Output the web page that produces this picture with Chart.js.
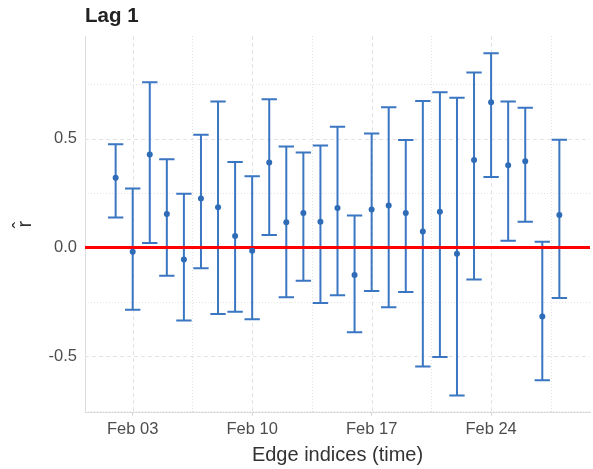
<!DOCTYPE html>
<html>
<head>
<meta charset="utf-8">
<script src="https://cdn.jsdelivr.net/npm/chart.js@4/dist/chart.umd.min.js"></script>
<style>
  html, body { margin: 0; padding: 0; background: #fff; }
  #wrap { width: 593px; height: 469px; }
</style>
</head>
<body>
<div id="wrap"><canvas id="lagChart" width="593" height="469"></canvas></div>
<script>
// Data (day of February)
const days = [2, 3, 4, 5, 6, 7, 8, 9, 10, 11, 12, 13, 14, 15, 16, 17, 18, 19, 20, 21, 22, 23, 24, 25, 26, 27, 28];
const estimates = [0.320, -0.020, 0.427, 0.153, -0.055, 0.225, 0.185, 0.052, -0.015, 0.390, 0.116, 0.158, 0.118, 0.181,
  -0.127, 0.174, 0.193, 0.158, 0.073, 0.164, -0.029, 0.401, 0.667, 0.378, 0.396, -0.317, 0.149];
const upper = [0.474, 0.271, 0.759, 0.405, 0.246, 0.517, 0.670, 0.392, 0.327, 0.681, 0.463, 0.436, 0.468, 0.554,
  0.147, 0.523, 0.644, 0.493, 0.673, 0.713, 0.687, 0.803, 0.892, 0.670, 0.641, 0.026, 0.494];
const lower = [0.138, -0.286, 0.020, -0.130, -0.335, -0.095, -0.306, -0.295, -0.330, 0.057, -0.229, -0.153, -0.255, -0.220,
  -0.390, -0.200, -0.275, -0.205, -0.547, -0.503, -0.680, -0.147, 0.324, 0.031, 0.118, -0.610, -0.232];

const xTickDays = [3, 10, 17, 24];
const xTickLabels = ["Feb 03", "Feb 10", "Feb 17", "Feb 24"];
const xMinorDays = [6.5, 13.5, 20.5, 27.5];
const yTicks = [-0.5, 0, 0.5];
const yMinor = [-0.75, -0.25, 0.25, 0.75];
const refLine = 0;

const blue = "#3a76c2";
const gridColor = "#e3e3e3";

// Grid, error bars and reference line drawn through the scales
const errorBarPlugin = {
  id: "errorBars",
  beforeDatasetsDraw(chart) {
    const { ctx, chartArea: a, scales: { x, y } } = chart;
    ctx.save();
    ctx.beginPath();
    ctx.rect(a.left, a.top, a.right - a.left, a.bottom - a.top);
    ctx.clip();

    // grid lines
    ctx.strokeStyle = gridColor;
    ctx.lineWidth = 1;
    function hline(v) {
      const py = Math.round(y.getPixelForValue(v)) + 0.5;
      ctx.beginPath(); ctx.moveTo(a.left, py); ctx.lineTo(a.right, py); ctx.stroke();
    }
    function vline(v) {
      const px = Math.round(x.getPixelForValue(v)) + 0.5;
      ctx.beginPath(); ctx.moveTo(px, a.top); ctx.lineTo(px, a.bottom); ctx.stroke();
    }
    ctx.setLineDash([1, 2]);
    yMinor.forEach(hline);
    xMinorDays.forEach(vline);
    ctx.setLineDash([4, 3]);
    yTicks.forEach(hline);
    xTickDays.forEach(vline);
    ctx.setLineDash([]);

    // error bars
    ctx.strokeStyle = blue;
    ctx.lineWidth = 2;
    days.forEach((d, i) => {
      const px = x.getPixelForValue(d);
      const x0 = x.getPixelForValue(d - 0.45);
      const x1 = x.getPixelForValue(d + 0.45);
      const yt = y.getPixelForValue(upper[i]);
      const yb = y.getPixelForValue(lower[i]);
      ctx.beginPath();
      ctx.moveTo(px, yt); ctx.lineTo(px, yb);
      ctx.moveTo(x0, yt); ctx.lineTo(x1, yt);
      ctx.moveTo(x0, yb); ctx.lineTo(x1, yb);
      ctx.stroke();
    });

    // reference line
    const pz = y.getPixelForValue(refLine);
    ctx.strokeStyle = "#ff0000";
    ctx.lineWidth = 3;
    ctx.beginPath(); ctx.moveTo(a.left, pz); ctx.lineTo(a.right, pz); ctx.stroke();
    ctx.restore();
  }
};

const ctx = document.getElementById("lagChart").getContext("2d");
new Chart(ctx, {
  type: "scatter",
  data: {
    datasets: [{
      data: days.map((d, i) => ({ x: d, y: estimates[i] })),
      backgroundColor: "#2f6cb8",
      borderColor: "#2f6cb8",
      pointRadius: 3,
      pointHoverRadius: 3,
      borderWidth: 0
    }]
  },
  options: {
    responsive: false,
    animation: false,
    devicePixelRatio: 1,
    layout: { padding: { left: 0, right: 1, top: 0, bottom: 0 } },
    plugins: {
      legend: { display: false },
      tooltip: { enabled: false },
      title: {
        display: true,
        text: "Lag 1",
        align: "start",
        fullSize: false,
        color: "#222",
        font: { family: "Liberation Sans", size: 20.5, weight: "bold" },
        padding: { top: 4, bottom: 7.4 }
      }
    },
    scales: {
      x: {
        type: "linear",
        min: 0.205,
        max: 29.795,
        afterBuildTicks(scale) {
          scale.ticks = xTickDays.map(v => ({ value: v }));
        },
        afterFit(scale) { scale.height = 56.5; },
        ticks: {
          color: "#4d4d4d",
          font: { family: "Liberation Sans", size: 16.5 },
          padding: 4,
          maxRotation: 0,
          callback: (v) => xTickLabels[xTickDays.indexOf(v)]
        },
        grid: { drawOnChartArea: false, drawTicks: true, tickLength: 3, color: "#cfcfcf" },
        border: { display: true, color: "#dcdcdc", width: 1 },
        title: {
          display: true,
          text: "Edge indices (time)",
          color: "#333",
          font: { family: "Liberation Sans", size: 20 },
          padding: { top: 0, bottom: 2 }
        }
      },
      y: {
        min: -0.758,
        max: 0.971,
        afterBuildTicks(scale) {
          scale.ticks = yTicks.map(v => ({ value: v }));
        },
        afterFit(scale) { scale.width = 85; },
        ticks: {
          color: "#4d4d4d",
          font: { family: "Liberation Sans", size: 16.5 },
          padding: 8,
          callback: (v) => v.toFixed(1)
        },
        grid: { drawOnChartArea: false, drawTicks: false },
        border: { display: true, color: "#dcdcdc", width: 1 },
        title: {
          display: true,
          text: "r\u0302",
          color: "#333",
          font: { family: "Liberation Sans", size: 20 },
          padding: { top: 13, bottom: 0 }
        }
      }
    }
  },
  plugins: [errorBarPlugin]
});
</script>
</body>
</html>
